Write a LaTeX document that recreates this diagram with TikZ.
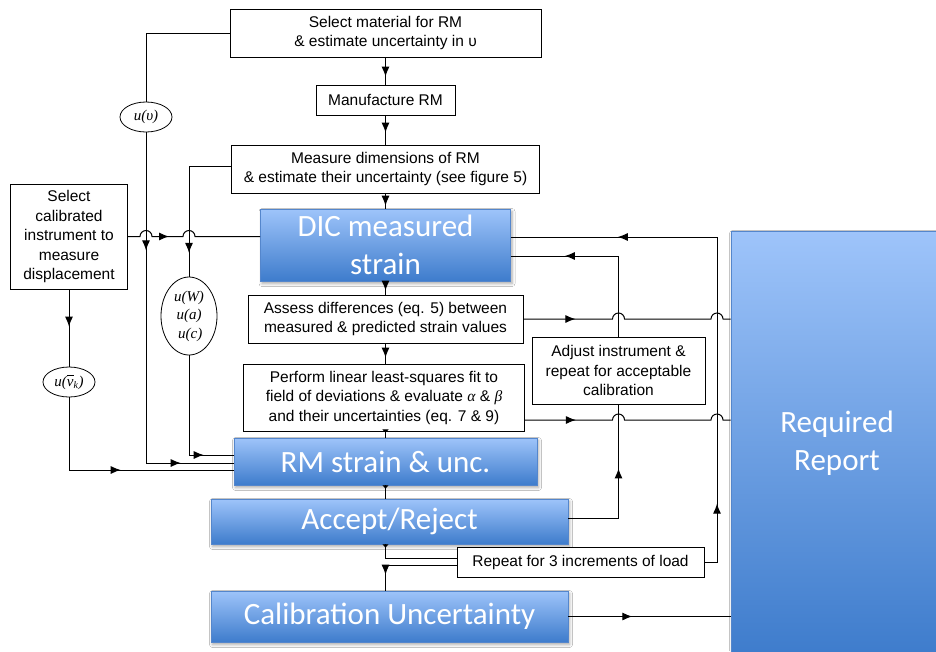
\documentclass[tikz,border=0pt]{standalone}
\usepackage{fontspec}
\setmainfont{Liberation Sans}
\newfontfamily\calibfam{Carlito}
\newfontfamily\timesfam{Liberation Serif}
\usetikzlibrary{arrows.meta,decorations.markings,shadows.blur,shapes.geometric}

\definecolor{btop}{RGB}{158,196,250}
\definecolor{bbot}{RGB}{62,124,204}
\definecolor{bedge}{RGB}{84,134,204}

\tikzset{
  box/.style={draw, line width=0.8pt, fill=white, align=center, inner sep=0pt,
    font=\fontsize{15.5}{19.5}\selectfont},
  bluebox/.style={draw=bedge, line width=0.6pt, top color=btop, bottom color=bbot,
    text=white, align=center, inner sep=0pt,
    font=\calibfam\fontsize{31}{38}\selectfont,
    blur shadow={shadow xshift=1.5pt, shadow yshift=-2.5pt, shadow blur radius=3pt, shadow opacity=35}},
  unc/.style={ellipse, draw, line width=0.8pt, inner sep=0pt, align=center,
    font=\timesfam\itshape\fontsize{15}{18.5}\selectfont},
  ln/.style={line width=1pt},
  tip/.style={postaction={decorate, decoration={markings,
    mark=at position #1 with {\arrow{Latex[length=10pt,width=8pt]}}}}},
  smalltip/.style={postaction={decorate, decoration={markings,
    mark=at position #1 with {\arrow{Latex[length=3.5pt,width=7pt]}}}}},
}

\begin{document}
\begin{tikzpicture}[x=1pt,y=-1pt]
\useasboundingbox (0,0) rectangle (936,651);
\fill[white] (0,0) rectangle (936,651);

% report panel on the right
\node[bluebox, minimum width=212pt, minimum height=424pt] (report) at (837,443) {Required\\Report};

% main column
\node[box, minimum width=311pt, minimum height=48pt] (topbox) at (385.5,33)
  {Select material for RM\\\& estimate uncertainty in υ};
\node[box, minimum width=139pt, minimum height=30pt] (manuf) at (385.5,100) {Manufacture RM};
\node[box, minimum width=308pt, minimum height=48pt] (measure) at (385.5,169)
  {Measure dimensions of RM\\\& estimate their uncertainty (see figure 5)};
\node[bluebox, minimum width=250pt, minimum height=72pt] (dic) at (385.5,245) {DIC measured\\strain};
\node[box, minimum width=275pt, minimum height=48pt] (assess) at (385.5,319)
  {Assess differences (eq. 5) between\\measured \& predicted strain values};
\node[box, minimum width=281pt, minimum height=67pt] (perform) at (384,397.5)
  {Perform linear least-squares fit to\\field of deviations \& evaluate {\timesfam\itshape α} \& {\timesfam\itshape β}\\and their uncertainties (eq. 7 \& 9)};
\node[bluebox, minimum width=303pt, minimum height=47pt] (rm) at (385.5,461.5) {RM strain \& unc.};
\node[bluebox, minimum width=357pt, minimum height=45pt] (accept) at (389.5,521.5) {Accept/Reject};
\node[box, minimum width=247pt, minimum height=30pt] (repeat) at (580.5,562) {Repeat for 3 increments of load};
\node[bluebox, minimum width=357pt, minimum height=51pt] (calib) at (389.5,616.5) {Calibration Uncertainty};

% side boxes
\node[box, minimum width=117pt, minimum height=105pt] (select) at (69,236.5)
  {Select\\calibrated\\instrument to\\measure\\displacement};
\node[box, minimum width=173pt, minimum height=67pt] (adjust) at (618.5,370.5)
  {Adjust instrument \&\\repeat for acceptable\\calibration};

% uncertainty ellipses
\node[unc, minimum width=52pt, minimum height=30pt] (euv) at (146,117) {u(υ)};
\node[unc, minimum width=56pt, minimum height=78pt] (ewac) at (189,316) {u(W)\\u(a)\\\,u(c)};
\node[unc, minimum width=52pt, minimum height=30pt] (evk) at (69,382)
  {u($\overline{\vphantom{k}\hbox{v}}_{\hbox{\fontsize{10}{10}\selectfont k}}$)};

% vertical guide positions
\coordinate (cx) at (385.5,0);
\coordinate (vl) at (618.5,0);
\coordinate (vr) at (717,0);

% main chain
\draw[ln,tip=-8pt] (topbox.south) -- (manuf.north);
\draw[ln,tip=-12pt] (manuf.south) -- (measure.north);
\draw[ln,tip=-3pt] (measure.south) -- (dic.north);
\draw[ln,tip=-4pt] (dic.south) -- (assess.north);
\draw[ln,tip=-6pt] (assess.south) -- (assess.south |- perform.north);
\draw[ln,smalltip=1.5pt] (cx |- perform.south) -- (cx |- rm.north);
\draw[ln,smalltip=3.5pt] (rm.south) -- (rm.south |- accept.north);
\draw[ln,smalltip=3.5pt] (cx |- accept.south) |- ([yshift=3.5pt]repeat.west);
\draw[ln,tip=-16pt] ([yshift=-3.5pt]repeat.west) -| (cx |- calib.north);

% feedback loops on the right
\draw[ln,tip=71pt,tip=-107pt] (repeat.east) -| (vr |- 0,237) -- (dic.east |- 0,237);
\draw[ln,tip=-64pt] ([yshift=3.5pt]accept.east) -| (adjust.south);
\draw[ln,tip=-54pt] (adjust.north) |- (dic.east |- 0,256);

% results to the report, hopping over the loops
\draw[ln,tip=52pt] (assess.east) -- (612.5,319) arc[start angle=180,end angle=0,radius=6pt]
  -- (711,319) arc[start angle=180,end angle=0,radius=6pt] -- (report.west |- assess.east);
\draw[ln,tip=51pt] (perform.east |- 0,420) -- (612.5,420) arc[start angle=180,end angle=0,radius=6pt]
  -- (711,420) arc[start angle=180,end angle=0,radius=6pt] -- (report.west |- 0,420);
\draw[ln,tip=64pt] (calib.east) -- (report.west |- calib.east);

% uncertainty inputs on the left
\draw[ln] (topbox.west) -| (euv.north);
\draw[ln,tip=118pt,tip=-53pt] (euv.south) |- ([yshift=-1.5pt]rm.west);
\draw[ln,tip=129pt] ([yshift=3pt]measure.west) -| (ewac.north);
\draw[ln,tip=-30pt] (ewac.south) |- ([yshift=6.5pt]rm.west);
\draw[ln,tip=48pt] (select.east) -- (140,236.5) arc[start angle=180,end angle=0,radius=6pt]
  -- (183,236.5) arc[start angle=180,end angle=0,radius=6pt] -- (dic.west |- select.east);
\draw[ln,tip=-40pt] (select.south) -- (evk.north);
\draw[ln,tip=-113pt] (evk.south) |- ([yshift=-8.5pt]rm.west);
\end{tikzpicture}
\end{document}
